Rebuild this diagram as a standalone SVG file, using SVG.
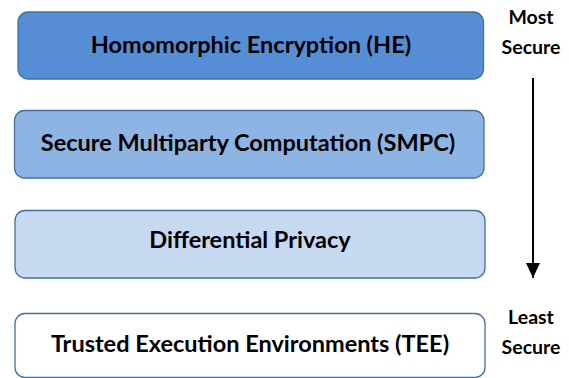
<svg xmlns="http://www.w3.org/2000/svg" width="569" height="378" viewBox="0 0 569 378">
<style>
.box{stroke:#41719C;stroke-width:1.3}
.t{font-family:Lato,"Open Sans","Liberation Sans",sans-serif;font-weight:700;font-size:23.5px;fill:#000;text-anchor:middle}
.s{font-family:Lato,"Open Sans","Liberation Sans",sans-serif;font-weight:700;font-size:19.5px;fill:#000;text-anchor:middle}
</style>
<defs>
<marker id="ah" viewBox="0 0 15 14" refX="15" refY="7" markerWidth="15" markerHeight="14" markerUnits="userSpaceOnUse" orient="auto">
<path d="M0,0 L15,7 L0,14 Z" fill="#000"/>
</marker>
</defs>
<rect width="569" height="378" fill="#fff"/>
<g id="he">
<rect class="box" x="18" y="12" width="465.5" height="67" rx="10" fill="#558ED5"/>
<text class="t" x="251" y="53">Homomorphic Encryption (HE)</text>
</g>
<g id="smpc">
<rect class="box" x="14.5" y="110.5" width="469.5" height="67.5" rx="10" fill="#8EB4E3"/>
<text class="t" x="248" y="151">Secure Multiparty Computation (SMPC)</text>
</g>
<g id="dp">
<rect class="box" x="15" y="210.5" width="470" height="67.5" rx="10" fill="#C6D9F1"/>
<text class="t" x="250" y="248">Differential Privacy</text>
</g>
<g id="tee">
<rect class="box" x="15" y="313.5" width="470" height="64" rx="10" fill="#FFFFFF"/>
<text class="t" x="250" y="352">Trusted Execution Environments (TEE)</text>
</g>
<g id="most">
<text class="s" x="531" y="24">Most</text>
<text class="s" x="531" y="54">Secure</text>
</g>
<g id="least">
<text class="s" x="531" y="324">Least</text>
<text class="s" x="531" y="354">Secure</text>
</g>
<g id="connectors">
<line x1="533" y1="78" x2="533" y2="278" stroke="#000" stroke-width="2" marker-end="url(#ah)"/>
</g>
</svg>
